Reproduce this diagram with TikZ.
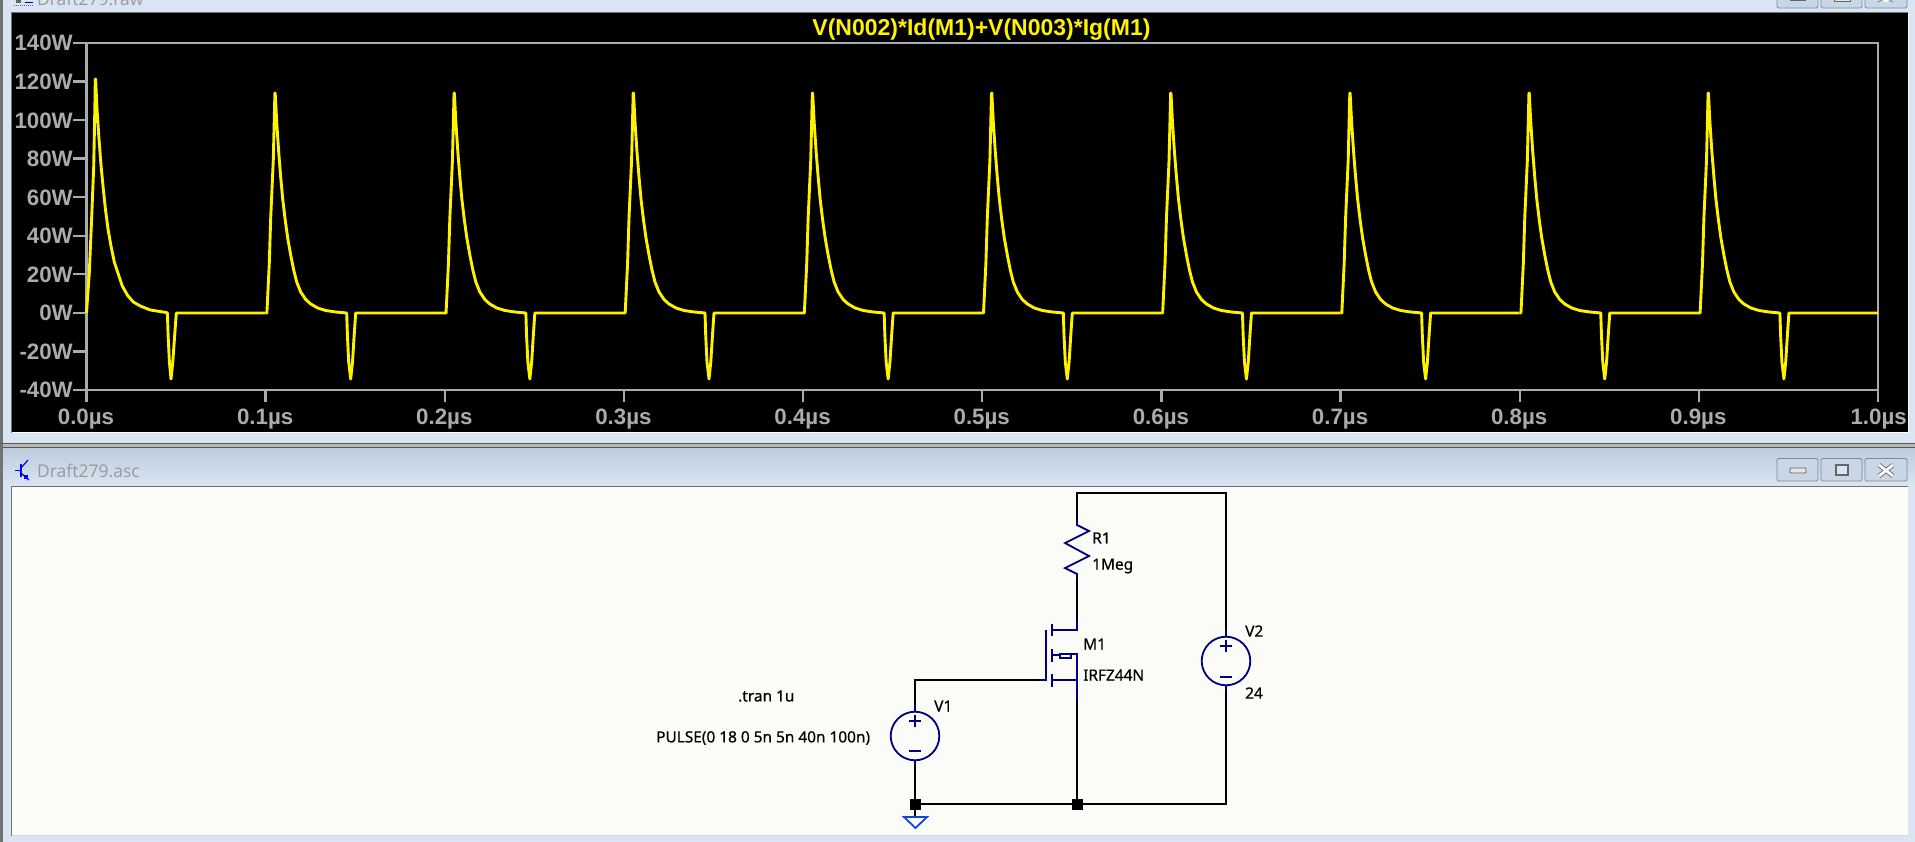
\documentclass[tikz,border=0pt]{standalone}
\usepackage{fontspec}
\setmainfont{Liberation Sans}
\newfontfamily\schemfont[FakeBold=0.5]{Noto Sans}
\newfontfamily\barfont{Open Sans}
\definecolor{framec}{HTML}{D9E5F3}
\definecolor{bartop}{HTML}{BDCCDB}
\definecolor{paperc}{HTML}{FBFCF7}
\definecolor{axisc}{HTML}{ABABAB}
\definecolor{symc}{HTML}{000080}
\definecolor{groundc}{HTML}{0A46E0}
\definecolor{btnc}{HTML}{C8D6E5}
\tikzset{
  axisline/.style={axisc, line width=2.4pt},
  axistext/.style={axisc, font=\fontsize{22.3}{24}\selectfont\bfseries, inner sep=0pt},
  wave/.style={yellow, line width=2.9pt, line join=round},
  wire/.style={black, line width=1.8pt, line join=miter},
  sym/.style={symc, line width=1.8pt, line join=miter},
  schemtext/.style={black, font=\schemfont\fontsize{15.4}{17}\selectfont, inner sep=0pt, anchor=west},
  bartext/.style={black!40, font=\barfont\fontsize{17.5}{20}\selectfont, inner sep=0pt, anchor=west},
  junction/.style={fill=black, draw=none, minimum size=11pt, inner sep=0pt},
  winbtn/.style={draw=black!35!btnc, fill=btnc, rounded corners=1.5pt, line width=0.8pt},
}
\begin{document}
\begin{tikzpicture}[x=1pt,y=-1pt]
\useasboundingbox (0,0) rectangle (1915,842);
\fill[framec] (0,0) rectangle (1915,842);
\fill[black!55] (0,0) rectangle (3,842);
\fill[black!28] (3,444) rectangle (1915,447);
\draw[black!65, line width=1.2pt] (0,443.5) -- (1915,443.5);
\shade[top color=bartop, bottom color=framec] (3,448) rectangle (1915,486);
\draw[black!65, line width=1.2pt] (3,447.5) -- (1915,447.5);
\draw[black!55, line width=1pt] (12,12.5) -- (1908,12.5);
\draw[black!55, line width=1pt] (11.5,486) -- (1908,486);
\draw[black!55, line width=1pt] (11.5,486) -- (11.5,836);
\draw[black!55, line width=1pt] (11.5,12) -- (11.5,433);
\fill[black] (12,13) rectangle (1908,432);
\fill[white] (12,432) rectangle (1908,433);
\fill[white] (1908,13) rectangle (1909,433);
\fill[paperc] (12,486.5) rectangle (1908,835);
\fill[black!15] (12,835) rectangle (1908,836);

\node[bartext] (rawtitle) at (37,-1) {Draft279.raw};
\node[bartext] (asctitle) at (37,471) {Draft279.asc};

\draw[black!60, line width=1pt, densely dotted] (14,6) -- (33,6);
\fill[black!60] (16,0) rectangle (21,3);
\draw[symc, line width=1pt] (25,3) -- (33,3);

\draw[blue, line width=1.2pt] (15,470.5) -- (20,470.5);
\draw[blue, line width=2pt] (21,464) -- (21,477);
\draw[blue, line width=1.2pt] (21,468) -- (28,460);
\draw[blue, line width=1.2pt] (21,473) -- (29,480);
\fill[blue] (24,475) rectangle (28,479);

\draw[winbtn] (1777,-6) rectangle (1818,8);
\draw[winbtn] (1821,-6) rectangle (1862,8);
\draw[winbtn] (1865,-6) rectangle (1907,8);
\fill[black!60] (1790,-6) rectangle (1806,1);
\fill[black!10] (1834,-6) rectangle (1850,2);
\draw[black!60, line width=1pt] (1834,-3) -- (1834,2) -- (1850,2) -- (1850,-3);
\draw[white, line width=2.5pt] (1880,-3) -- (1886,1) -- (1892,-3);
\draw[black!60, line width=0.6pt] (1878,2) -- (1882,0);
\draw[black!60, line width=0.6pt] (1893,2) -- (1889,0);

\draw[winbtn] (1777,458.5) rectangle (1818,481);
\draw[winbtn] (1821,458.5) rectangle (1862,481);
\draw[winbtn] (1865,458.5) rectangle (1907,481);
\draw[black!60, fill=white!90!black, rounded corners=1pt, line width=0.8pt] (1790,468) rectangle (1806,473);
\draw[black!60, fill=framec, line width=2pt] (1835.5,464.5) rectangle (1848,475);
\draw[black!60, line width=4.5pt] (1879,465) -- (1893,476);
\draw[black!60, line width=4.5pt] (1893,465) -- (1879,476);
\draw[white, line width=2.8pt] (1879,465) -- (1893,476);
\draw[white, line width=2.8pt] (1893,465) -- (1879,476);

\draw[axisline, line cap=rect] (86.5,390) -- (86.5,43) -- (1878,43) -- (1878,390) -- cycle;
\foreach \val [count=\i from 0] in {140,120,100,80,60,40,20,0,-20,-40} {
  \draw[axisline] (73,43+\i*38.55) -- (86.5,43+\i*38.55);
  \node[axistext, anchor=base east] (ylab\i) at (73,51+\i*38.55) {\val W};
}
\foreach \val [count=\i from 0] in {0.0,0.1,0.2,0.3,0.4,0.5,0.6,0.7,0.8,0.9} {
  \draw[axisline] (86.5+\i*179.15,390) -- (86.5+\i*179.15,402);
  \node[axistext, anchor=base] (xlab\i) at (86+\i*179.15,424.5) {\val µs};
}
\draw[axisline] (1878,390) -- (1878,402);
\node[axistext, anchor=base east] (xlab10) at (1907,424.5) {1.0µs};
\node[yellow, font=\fontsize{23}{25}\selectfont\bfseries, inner sep=0pt, anchor=base] (plottitle) at (981.5,36) {V(N002)*Id(M1)+V(N003)*Ig(M1)};

\draw[wave] (86.5,313) -- (89.3,273) -- (91.7,217) -- (93.7,167) -- (95,100) -- (95.3,79) -- (95.6,79) -- (97,109) -- (99,139) -- (101,165) -- (103,186) -- (105.3,208) -- (108,229) -- (111,246) -- (114.3,262) -- (118.3,274) -- (122.3,286) -- (127.3,295) -- (133.3,302) -- (140.3,306) -- (150.3,310) -- (166.3,312.5) -- (167.4,313) -- (168.1,335) -- (169.4,362) -- (171,379) -- (172.8,362) -- (174.7,335) -- (176.3,313) -- (265.65,313);
\foreach \k in {0,...,8} {
  \draw[wave, xshift=\k*179.15pt] (265.65,313) -- (266.9,313) -- (269.3,263) -- (270.7,218) -- (273.3,160) -- (274.9,93) -- (275.2,93) -- (276.7,122) -- (278.7,152) -- (280.7,177) -- (282.7,199) -- (285.2,220) -- (287.7,238) -- (290.7,255) -- (293.7,270) -- (296.7,282) -- (300.7,292) -- (305.7,299.5) -- (310.7,304) -- (317.7,308) -- (325.7,310.5) -- (335.7,312) -- (346.7,313) -- (347.4,335) -- (348.7,362) -- (350.7,379) -- (352.5,362) -- (354.2,335) -- (355.7,313) -- (444.8,313);
}

\coordinate (topL) at (1077,493);
\coordinate (topR) at (1226,493);
\coordinate (rtop) at (1077,520);
\coordinate (rbot) at (1077,578);
\coordinate (dpin) at (1077,620);
\coordinate (spin) at (1077,700);
\coordinate (gatein) at (1046,680);
\coordinate (gatemid) at (1040,680);
\coordinate (gatecorner) at (915,680);
\coordinate (v1top) at (915,705);
\coordinate (v1bot) at (915,765);
\coordinate (v2top) at (1226,630);
\coordinate (v2bot) at (1226,690);
\coordinate (botR) at (1226,804);
\coordinate (gndtop) at (915,817);
\node[junction] (jA) at (915,804) {};
\node[junction] (jB) at (1077,804) {};

\draw[wire] (rtop) -- (topL) -- (topR) -- (v2top);
\draw[wire] (rbot) -- (dpin);
\draw[wire] (gatemid) -- (gatecorner) -- (v1top);
\draw[wire] (v1bot) -- (jA.center) -- (jB.center);
\draw[wire] (spin) -- (jB.center);
\draw[wire] (jB.center) -- (botR) -- (v2bot);
\draw[wire] (jA.center) -- (gndtop);
\draw[groundc, line width=1.8pt, line join=miter] (904,817) -- (927,817) -- (915.5,828) -- cycle;

\draw[sym] (rtop) -- (1077,525) -- (1089,531) -- (1065,543) -- (1089,556) -- (1065,568) -- (1077,574) -- (rbot);
\draw[sym] (dpin) -- (1077,630) -- (1052,630);
\draw[sym] (1052,624) -- (1052,636);
\draw[sym] (1052,649) -- (1052,662);
\draw[sym] (1052,674) -- (1052,687);
\draw[sym] (1046,630) -- (gatein) -- (gatemid);
\draw[sym] (1052,680) -- (1077,680);
\draw[sym] (1052,655) -- (1060,655);
\draw[sym, line width=1.2pt] (1060,654) rectangle (1071,658);
\draw[sym] (1071,654) -- (1077,654) -- (spin);

\draw[sym] (915,736) circle [radius=24.3];
\draw[sym] (v1top) -- (915,712);
\draw[sym] (v1bot) -- (915,760);
\draw[sym] (909,721) -- (921,721);
\draw[sym] (915,715) -- (915,727);
\draw[sym] (909,751) -- (921,751);
\draw[sym] (1226,661) circle [radius=24.3];
\draw[sym] (v2top) -- (1226,637);
\draw[sym] (v2bot) -- (1226,685);
\draw[sym] (1220,646) -- (1232,646);
\draw[sym] (1226,640) -- (1226,652);
\draw[sym] (1220,677) -- (1232,677);

\node[schemtext] (r1name) at (1092,538) {R1};
\node[schemtext] (r1val) at (1092,566) {1Meg};
\node[schemtext] (m1name) at (1083,644) {M1};
\node[schemtext] (m1val) at (1083,675) {IRFZ44N};
\node[schemtext] (v2name) at (1245,631) {V2};
\node[schemtext] (v2val) at (1245,693) {24};
\node[schemtext] (v1name) at (934,706) {V1};
\node[schemtext] (v1val) at (656,738) {PULSE(0 18 0 5n 5n 40n 100n)};
\node[schemtext] (trancmd) at (738,696) {.tran 1u};
\end{tikzpicture}
\end{document}
